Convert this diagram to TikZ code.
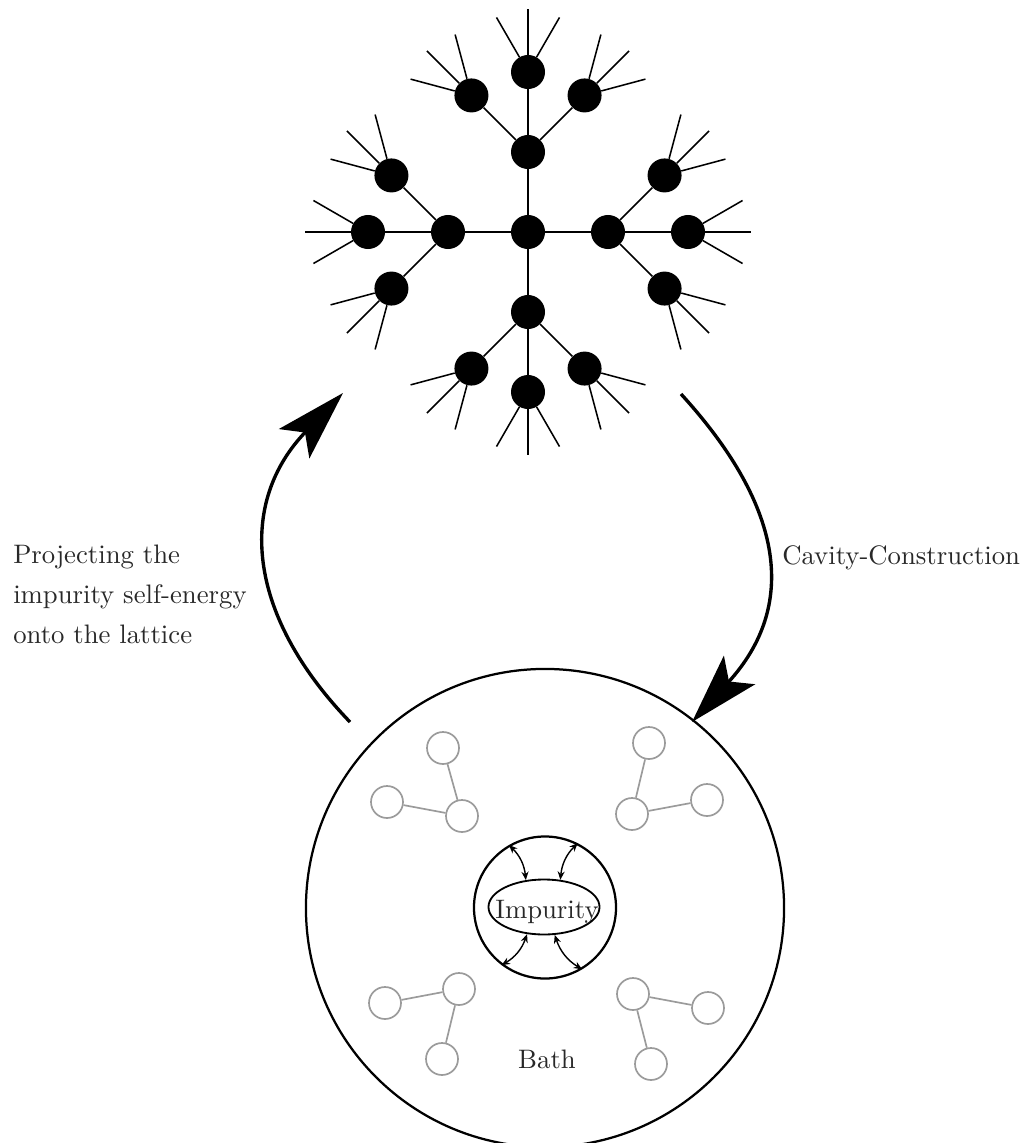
\documentclass[tikz,border=0pt]{standalone}
\usepackage{graphicx}
\usetikzlibrary{arrows.meta,shapes.geometric}
\definecolor{bathgray}{RGB}{155,155,155}
\definecolor{txtcol}{RGB}{40,40,40}
\begin{document}
\begin{tikzpicture}[x=0.025cm,y=-0.025cm,
  dot/.style={circle,fill=black,draw=none,minimum size=0.85cm,inner sep=0},
  treeline/.style={line width=1.1pt},
  bathnode/.style={circle,draw=bathgray,line width=1.2pt,minimum size=0.8cm,inner sep=0},
  bathline/.style={draw=bathgray,line width=1.2pt},
  bigarrow/.style={line width=2.4pt,-{Stealth[length=50pt,width=30pt,inset=11pt]}},
  smallarrow/.style={line width=1pt,{Stealth[length=6pt,width=5pt]}-{Stealth[length=6pt,width=5pt]}},
  ring/.style={circle,draw,line width=1.6pt,inner sep=0},
  txt/.style={inner sep=0,text=txtcol,font=\fontsize{10}{15}\selectfont}]

\useasboundingbox (0,0) rectangle (1026,1143);

% ---- tree (Bethe lattice) ----
\node[dot] (c) at (528,232) {};
\foreach \d in {0,90,180,270}{
  \node[dot] (a\d) at ([shift={(\d:80)}]c) {};
  \draw[treeline] (c) -- (a\d);
  \foreach \e in {-45,0,45}{
    \pgfmathtruncatemacro\g{\d+\e}
    \node[dot] (b\d x\e) at ([shift={(\g:80)}]a\d) {};
    \draw[treeline] (a\d) -- (b\d x\e);
    \foreach \f in {-30,0,30}{
      \pgfmathtruncatemacro\h{\g+\f}
      \coordinate (l\d x\e x\f) at ([shift={(\h:63)}]b\d x\e);
      \draw[treeline] (b\d x\e) -- (l\d x\e x\f);
    }
  }
}

% ---- big arrows ----
\coordinate (la) at (350,722); \coordinate (lb) at (343,393);
\draw[bigarrow] (la) .. controls (245,613) and (238,502) .. (lb);
\coordinate (ra) at (681,394); \coordinate (rb) at (692,722);
\draw[bigarrow] (ra) .. controls (786,509) and (797,607) .. (rb);

% ---- labels ----
\node[txt,anchor=base west] (proj) at (13,563)
  {\scalebox{1.9}{\begin{tabular}[t]{@{}l@{}}Projecting the\\ impurity self-energy\\ onto the lattice\end{tabular}}};
\node[txt,anchor=base west] (cav) at (782,564) {\scalebox{1.9}{Cavity-Construction}};

% ---- bath ----
\node[ring,minimum size=11.95cm] (bath) at (545,908) {};
\node[ring,minimum size=3.55cm] (inner) at (545,907.5) {};
\node[ellipse,draw,line width=1.3pt,minimum width=2.775cm,minimum height=1.375cm,inner sep=0] (imp) at (544,907) {};
\node[txt,anchor=base] (imptxt) at (547,918) {\scalebox{1.9}{Impurity}};
\node[txt,anchor=base] (bathtxt) at (547,1068) {\scalebox{1.9}{Bath}};

\draw[smallarrow] (inner.120) to[bend left=20] (imp.124);
\draw[smallarrow] (inner.63) to[bend right=20] (imp.59);
\draw[smallarrow] (imp.238) to[bend left=20] (inner.233);
\draw[smallarrow] (imp.291) to[bend right=20] (inner.301);

% clusters
\node[bathnode] (tl1) at (443,748) {};
\node[bathnode] (tl2) at (387,802) {};
\node[bathnode] (tl3) at (462,816) {};
\draw[bathline] (tl1) -- (tl3) (tl2) -- (tl3);

\node[bathnode] (tr1) at (649,743) {};
\node[bathnode] (tr2) at (632,814) {};
\node[bathnode] (tr3) at (707,800) {};
\draw[bathline] (tr1) -- (tr2) (tr2) -- (tr3);

\node[bathnode] (bl1) at (459,989) {};
\node[bathnode] (bl2) at (385,1003) {};
\node[bathnode] (bl3) at (442,1059) {};
\draw[bathline] (bl1) -- (bl2) (bl1) -- (bl3);

\node[bathnode] (br1) at (633,994) {};
\node[bathnode] (br2) at (708,1008) {};
\node[bathnode] (br3) at (651,1064) {};
\draw[bathline] (br1) -- (br2) (br1) -- (br3);
\end{tikzpicture}
\end{document}
